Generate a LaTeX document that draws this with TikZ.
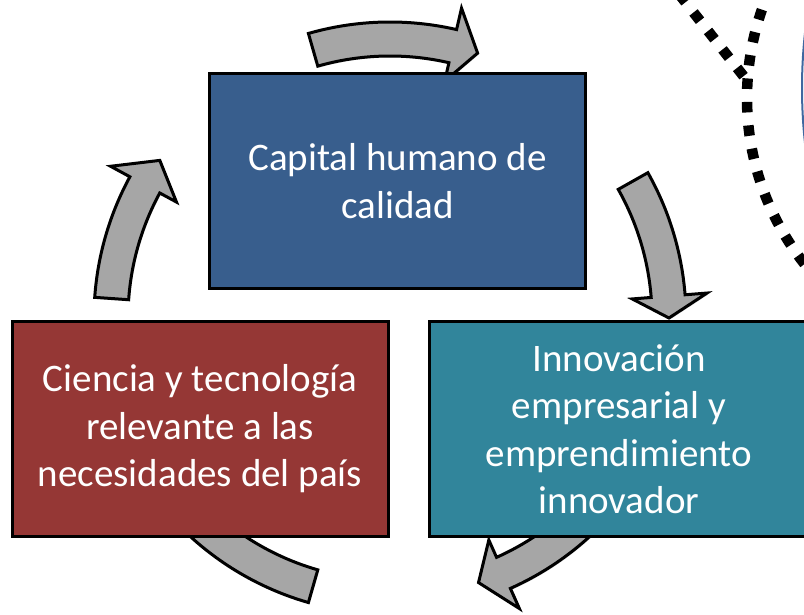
\documentclass[tikz,border=0pt]{standalone}
\usepackage{fontspec}
\setmainfont{Carlito}
\usepackage{tikz}
\usetikzlibrary{calc,shadows}

\definecolor{boxblue}{RGB}{56,94,141}
\definecolor{boxred}{RGB}{149,55,53}
\definecolor{boxteal}{RGB}{49,133,155}
\definecolor{arrowgray}{RGB}{166,166,166}
\definecolor{ringblue}{RGB}{64,104,160}

\begin{document}
\begin{tikzpicture}[x=1pt, y=1pt,
        caja/.style={draw=black, line width=3pt, text=white, align=center,
            minimum width=376pt, minimum height=215pt, inner sep=4pt,
            font=\fontsize{39}{47.5}\selectfont},
        flecha/.style={draw=black, fill=arrowgray, line width=3pt, line join=miter,
            drop shadow={shadow xshift=1.2pt, shadow yshift=-1.5pt, opacity=.25}},
        puntos/.style={draw=black, line width=10.5pt, dash pattern=on 10.5pt off 13pt}]
    \useasboundingbox (0,0) rectangle (804,-615);
    \clip (0,0) rectangle (804,-615);

    % zoom circle top right
    \draw[ringblue, line width=2pt] (1302,-88) circle (500pt);
    \draw[puntos] (1015,-98) circle (268pt);
    \draw[puntos] (679,6) -- (745,-78);

    % cycle arrows: start / head base / tip angles
    \coordinate (C) at (390,-318);
    \foreach \a/\b/\t in {106/77/71.7, 29.4/4.5/0, 322/294/288.5, 254/214/209, 176/151.5/145.6}{
        \draw[flecha] ($(C)+(\a:296)$) arc[start angle=\a, end angle=\b, radius=296pt]
            -- ($(C)+(\b:318)$) -- ($(C)+(\t:279)$) -- ($(C)+(\b:243)$)
            -- ($(C)+(\b:262)$) arc[start angle=\b, end angle=\a, radius=262pt] -- cycle;
    }

    \node[caja, fill=boxblue] (capital) at (397.5,-181) {Capital humano de\\calidad};
    \node[caja, fill=boxred] (ciencia) at (200,-429) {Ciencia y tecnología\\relevante a las\\necesidades del país};
    \node[caja, fill=boxteal, minimum width=380pt] (innovacion) at (619,-429) {Innovación\\empresarial y\\emprendimiento\\innovador};
\end{tikzpicture}
\end{document}
